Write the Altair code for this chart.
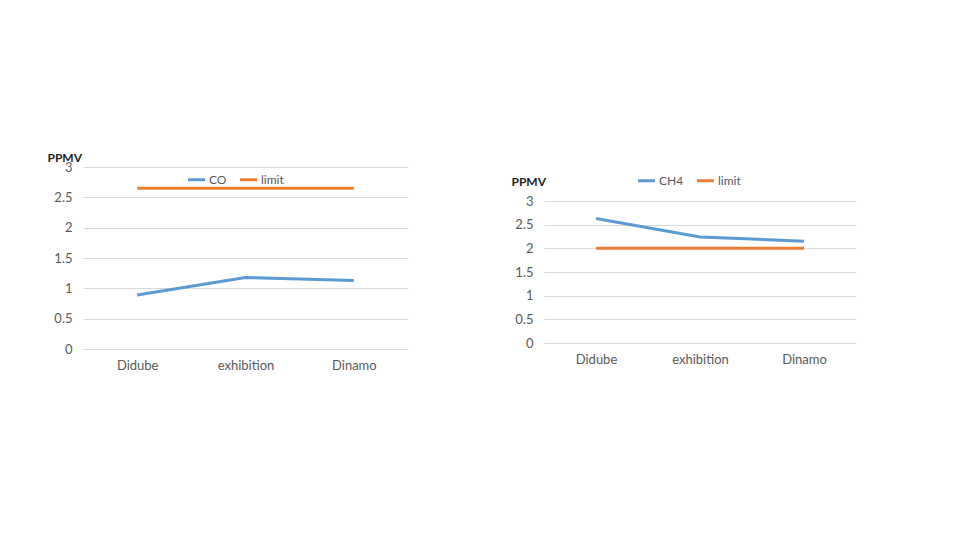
import altair as alt
import pandas as pd

categories = ["Didube", "exhibition", "Dinamo"]
co_values = [0.89, 1.18, 1.13]
co_limit = [2.65, 2.65, 2.65]
ch4_values = [2.63, 2.24, 2.15]
ch4_limit = [2.0, 2.0, 2.0]
y_ticks = [0, 0.5, 1, 1.5, 2, 2.5, 3]

BLUE = "#5B9BD5"
ORANGE = "#ED7D31"
FONT = "Lato"

def make_df(name, vals, lim):
    rows = []
    for c, v in zip(categories, vals):
        rows.append({"place": c, "series": name, "value": v})
    for c, v in zip(categories, lim):
        rows.append({"place": c, "series": "limit", "value": v})
    return pd.DataFrame(rows)

def panel(df, name, width, height, ymax, title_x, title_y, leg_x, leg_y):
    return alt.Chart(df).mark_line(strokeWidth=3).encode(
        x=alt.X("place:N", sort=categories,
                scale=alt.Scale(type="point", padding=0.5),
                axis=alt.Axis(title=None, labelAngle=0, domain=False, ticks=False,
                              grid=False, labelPadding=10, labelFontSize=13,
                              labelColor="#595959", labelFont=FONT)),
        y=alt.Y("value:Q", scale=alt.Scale(domain=[0, ymax], nice=False, zero=True),
                axis=alt.Axis(title="PPMV", titleAngle=0, titleX=title_x, titleY=title_y,
                              titleAlign="left", titleBaseline="middle",
                              titleFontSize=12, titleFontWeight="bold", titleColor="#222222",
                              titleFont=FONT,
                              values=y_ticks, format=".1~f", domain=False, ticks=False,
                              grid=True, gridColor="#D9D9D9", labelPadding=11,
                              labelFontSize=13, labelColor="#595959", labelFont=FONT)),
        color=alt.Color("series:N", sort=[name, "limit"],
                        scale=alt.Scale(domain=[name, "limit"], range=[BLUE, ORANGE]),
                        legend=alt.Legend(title=None, orient="none", legendX=leg_x, legendY=leg_y,
                                          direction="horizontal", symbolType="stroke",
                                          symbolSize=290, symbolStrokeWidth=3,
                                          labelFontSize=12, labelColor="#595959",
                                          labelFont=FONT, columnPadding=6,
                                          labelOffset=2)),
    ).properties(width=width, height=height)

left = panel(make_df("CO", co_values, co_limit), "CO", 325, 182, 3.0, -36, -10, 103, 2)
right = panel(make_df("CH4", ch4_values, ch4_limit), "CH4", 312, 176, 3 * 176 / 142, -33, 14, 92, 3)

chart = alt.hconcat(left, right, spacing=136, bounds="flush").resolve_scale(
    color="independent", y="independent", x="independent"
).resolve_legend(color="independent").properties(
    padding={"left": 39, "top": 143, "right": 10, "bottom": 10},
    background="white",
).configure_view(stroke=None)

chart.save("out.html", embed_options={"renderer": "svg", "actions": False})
